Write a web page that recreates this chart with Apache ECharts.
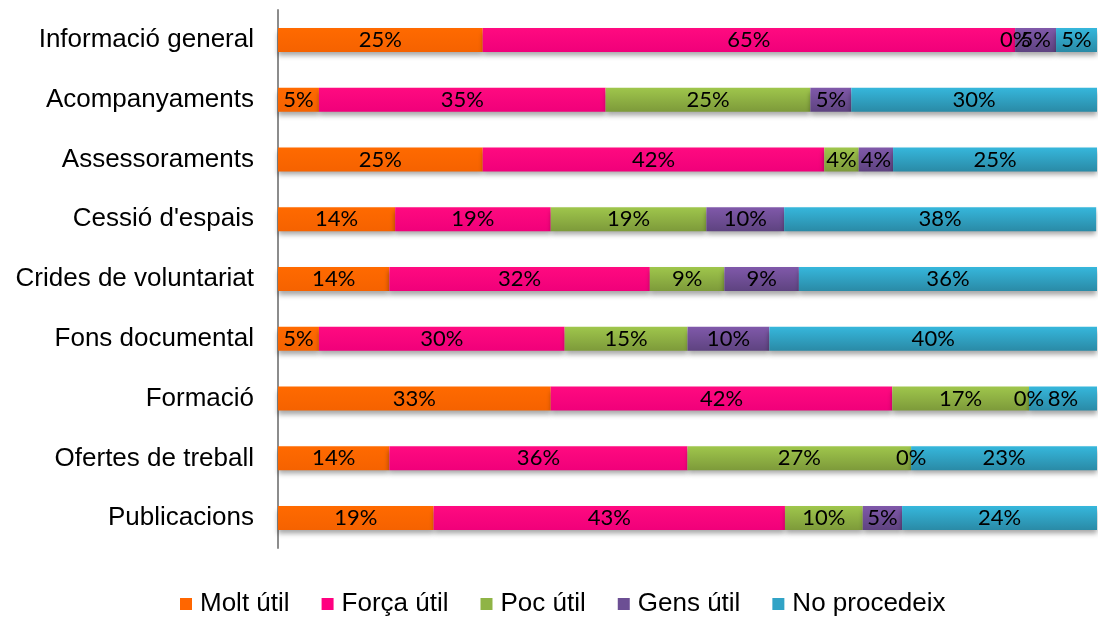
<!DOCTYPE html>
<html>
<head>
<meta charset="utf-8">
<script src="https://cdn.jsdelivr.net/npm/echarts@6/dist/echarts.min.js"></script>
<style>
  html, body { margin: 0; padding: 0; background: #fff; }
  #chart { width: 1098px; height: 617px; }
</style>
</head>
<body>
<div id="chart"></div>
<script>
// categories, top to bottom
const categories = ['Informació general', 'Acompanyaments', 'Assessoraments', "Cessió d'espais",
  'Crides de voluntariat', 'Fons documental', 'Formació', 'Ofertes de treball', 'Publicacions'];

// percent per category
const moltUtil   = [25, 5, 25, 14.3, 13.6, 5, 33.3, 13.6, 19.0];
const forcaUtil  = [65, 35, 41.7, 19.0, 31.8, 30, 41.7, 36.4, 42.9];
const pocUtil    = [0, 25, 4.2, 19.0, 9.1, 15, 16.7, 27.3, 9.5];
const gensUtil   = [5, 5, 4.2, 9.5, 9.1, 10, 0, 0, 4.8];
const noProcedeix = [5, 30, 25, 38.1, 36.4, 40, 8.3, 22.7, 23.8];

const seriesNames = ['Molt útil', 'Força útil', 'Poc útil', 'Gens útil', 'No procedeix'];
const seriesData = [moltUtil, forcaUtil, pocUtil, gensUtil, noProcedeix];

function grad(top, bottom) {
  return new echarts.graphic.LinearGradient(0, 0, 0, 1, [
    { offset: 0, color: top },
    { offset: 1, color: bottom }
  ]);
}
const colors = [
  grad('#ff6a00', '#f56200'),
  grad('#ff0a80', '#f0007a'),
  grad('#9fc64c', '#7d9a3a'),
  grad('#8059aa', '#5e4380'),
  grad('#36b7dc', '#2a8aa6')
];
const legendColors = ['#ff6600', '#ff0080', '#8fb446', '#6c4f94', '#31a3c6'];

const chart = echarts.init(document.getElementById('chart'));

const option = {
  animation: false,
  grid: { left: 278, right: 1, top: 10, bottom: 69 },
  legend: {
    top: 586,
    left: 175,
    itemWidth: 12,
    itemHeight: 12,
    itemGap: 32,
    icon: 'rect',
    textStyle: { fontFamily: 'Liberation Sans', fontSize: 26, color: '#000', padding: [0, 0, 0, 3] },
    data: seriesNames.map((n, i) => ({ name: n, itemStyle: { color: legendColors[i] } }))
  },
  xAxis: { type: 'value', min: 0, max: 100, show: false },
  yAxis: {
    type: 'category',
    inverse: true,
    data: categories,
    axisLine: { show: true, lineStyle: { color: '#8c8c8c', width: 2 } },
    axisTick: { show: false },
    axisLabel: { fontFamily: 'Liberation Sans', fontSize: 26, color: '#000', margin: 24 }
  },
  series: seriesNames.map((name, i) => ({
    name: name,
    type: 'bar',
    stack: 'total',
    barWidth: 24,
    data: seriesData[i],
    itemStyle: {
      color: colors[i],
      shadowColor: 'rgba(0,0,0,0.35)',
      shadowBlur: 5,
      shadowOffsetY: 4
    },
    label: {
      show: true,
      position: 'inside',
      color: '#000',
      fontFamily: 'Lato',
      fontSize: 22,
      formatter: p => Math.round(p.value) + '%'
    }
  }))
};
chart.setOption(option);
</script>
</body>
</html>
